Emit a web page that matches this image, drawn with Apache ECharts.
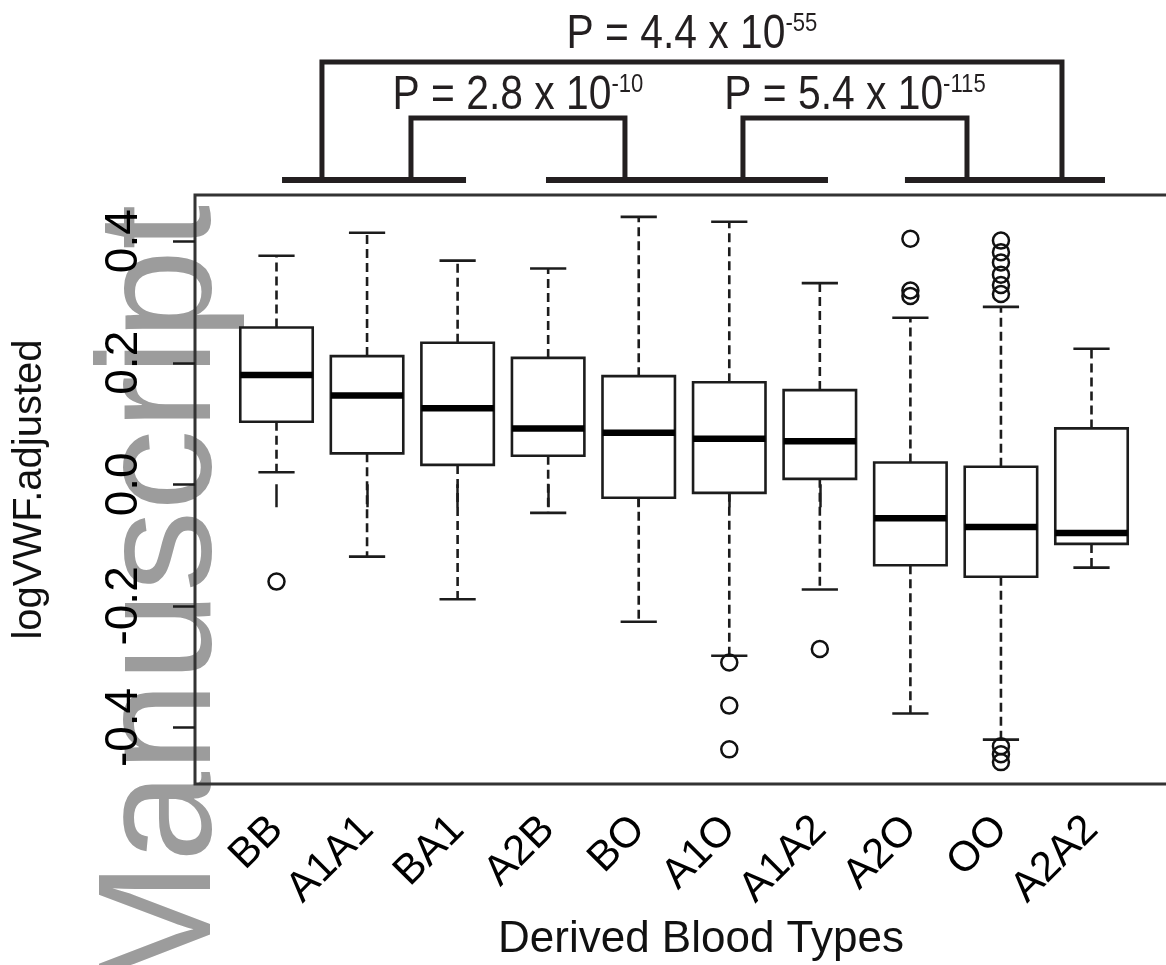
<!DOCTYPE html>
<html><head><meta charset="utf-8">
<script src="https://cdn.jsdelivr.net/npm/echarts@6/dist/echarts.min.js"></script>
<style>html,body{margin:0;padding:0;background:#fff}#c{width:1166px;height:965px}</style>
</head><body><div id="c"></div>
<script>
// ---------- data ----------
const categories  = ['BB','A1A1','BA1','A2B','BO','A1O','A1A2','A2O','OO','A2A2'];
const whiskerLow  = [0.020, -0.119, -0.189, -0.047, -0.226, -0.282, -0.173, -0.377, -0.420, -0.137];
const quartile1   = [0.103,  0.051,  0.032,  0.047, -0.022, -0.014,  0.009, -0.133, -0.152, -0.098];
const medians     = [0.180,  0.146,  0.125,  0.092,  0.085,  0.075,  0.071, -0.056, -0.070, -0.080];
const quartile3   = [0.258,  0.211,  0.233,  0.208,  0.178,  0.168,  0.155,  0.036,  0.029,  0.092];
const whiskerHigh = [0.376,  0.414,  0.368,  0.355,  0.440,  0.432,  0.331,  0.274,  0.292,  0.223];
// outliers: category (1-based position) and value
const outlierCategory = [1, 6, 6, 6, 7, 8, 8, 8, 9, 9, 9, 9, 9, 9, 9, 9, 9];
const outlierValue    = [-0.160, -0.293, -0.364, -0.436, -0.271, 0.404, 0.319, 0.310,
                         0.401, 0.382, 0.365, 0.345, 0.328, 0.313, -0.431, -0.444, -0.457];
const yTicks = [-0.4, -0.2, 0.0, 0.2, 0.4];
const pMantissa = ['4.4', '2.8', '5.4'];
const pExponent = ['-55', '-10', '-115'];

// ---------- styling / layout ----------
const FONT = '"Liberation Sans", Arial, Helvetica, sans-serif';
const INK = '#1c1c1c';
const positions = categories.map((_, i) => i + 1);

const chart = echarts.init(document.getElementById('c'), null, {renderer: 'canvas'});

const boxData = categories.map((c, i) => [i + 1, whiskerLow[i], quartile1[i], medians[i], quartile3[i], whiskerHigh[i]]);
const outlierData = outlierCategory.map((c, i) => [c, outlierValue[i]]);

function renderBox(params, api) {
  const x = api.value(0);
  const lo = api.coord([x, api.value(1)]);
  const q1 = api.coord([x, api.value(2)]);
  const md = api.coord([x, api.value(3)]);
  const q3 = api.coord([x, api.value(4)]);
  const hi = api.coord([x, api.value(5)]);
  const half = api.size([0.8, 0])[0] / 2;
  const cap = half / 2;
  const cx = md[0];
  const dashed = {stroke: INK, lineWidth: 2.6, lineDash: [9, 5]};
  const solid = {stroke: INK, lineWidth: 2.6};
  return {
    type: 'group',
    children: [
      {type: 'line', shape: {x1: cx, y1: q3[1], x2: cx, y2: hi[1]}, style: dashed},
      {type: 'line', shape: {x1: cx, y1: q1[1], x2: cx, y2: lo[1]}, style: dashed},
      {type: 'line', shape: {x1: cx - cap, y1: hi[1], x2: cx + cap, y2: hi[1]}, style: solid},
      {type: 'line', shape: {x1: cx - cap, y1: lo[1], x2: cx + cap, y2: lo[1]}, style: solid},
      {type: 'rect', shape: {x: cx - half, y: q3[1], width: 2 * half, height: q1[1] - q3[1]},
        style: {fill: '#fff', stroke: INK, lineWidth: 2.6}},
      {type: 'line', shape: {x1: cx - half, y1: md[1], x2: cx + half, y2: md[1]},
        style: {stroke: '#000', lineWidth: 6.5}}
    ]
  };
}

chart.setOption({
  animation: false,
  backgroundColor: '#fff',
  textStyle: {fontFamily: FONT},
  grid: {left: 195, top: 195, width: 978, height: 589, show: true, containLabel: false,
         outerBoundsMode: 'none',
         borderColor: '#333', borderWidth: 3, backgroundColor: 'transparent'},
  xAxis: {
    type: 'value', min: 0.1, max: 10.9,
    axisLine: {show: false}, splitLine: {show: false},
    axisTick: {customValues: positions, length: 23, lineStyle: {color: INK, width: 2.5}},
    axisLabel: {customValues: positions, rotate: 45, margin: 39, fontSize: 42, color: '#000',
                fontFamily: FONT, formatter: v => categories[Math.round(v) - 1]},
    name: 'Derived Blood Types', nameLocation: 'middle', nameGap: 131,
    nameTextStyle: {fontSize: 44, color: '#111', fontFamily: FONT, padding: [0, 0, 0, 34]}
  },
  yAxis: {
    type: 'value', min: -0.493, max: 0.476,
    axisLine: {show: false}, splitLine: {show: false},
    axisTick: {customValues: yTicks, length: 22, lineStyle: {color: INK, width: 2.5}},
    axisLabel: {customValues: yTicks, rotate: 90, margin: 48, fontSize: 46, color: '#000',
                fontFamily: FONT, formatter: v => v.toFixed(1)},
    name: 'logVWF.adjusted', nameLocation: 'middle', nameRotate: 90, nameGap: 145,
    nameTextStyle: {fontSize: 40, color: '#111', fontFamily: FONT}
  },
  series: [
    {type: 'custom', name: 'box', data: boxData, renderItem: renderBox,
     encode: {x: 0, y: [1, 2, 3, 4, 5]}, clip: false, z: 3},
    {type: 'scatter', name: 'outliers', data: outlierData, symbol: 'circle', symbolSize: 16,
     itemStyle: {color: 'rgba(0,0,0,0)', borderColor: '#111', borderWidth: 2.5, opacity: 1}, z: 4}
  ]
});

// ---------- significance brackets (positions in x-axis units) ----------
const bracketLayout = {
  bars: [[1.061, 3.093], [3.976, 7.090], [7.940, 10.149]],
  barY: 180,
  brackets: [
    {from: 1.502, to: 9.674, top: 62, textY: 35},
    {from: 2.485, to: 4.848, top: 118, textY: 96},
    {from: 6.151, to: 8.625, top: 118, textY: 96}
  ]
};
const px = u => chart.convertToPixel({gridIndex: 0}, [u, 0])[0];

const elements = [];
elements.push({
  type: 'text', x: 165, y: 997, rotation: Math.PI / 2, z: -10, silent: true,
  style: {text: 'Manuscript', fontSize: 162, fontFamily: FONT, fill: '#9c9c9c',
          align: 'left', verticalAlign: 'middle'}
});
bracketLayout.bars.forEach(b => {
  elements.push({type: 'line', z: 10, shape: {x1: px(b[0]), y1: bracketLayout.barY, x2: px(b[1]), y2: bracketLayout.barY},
                 style: {stroke: '#231f20', lineWidth: 6}});
});
bracketLayout.brackets.forEach((b, i) => {
  const x1 = px(b.from), x2 = px(b.to);
  elements.push({type: 'polyline', z: 10,
    shape: {points: [[x1, bracketLayout.barY], [x1, b.top], [x2, b.top], [x2, bracketLayout.barY]]},
    style: {stroke: '#231f20', lineWidth: 5, fill: null, lineJoin: 'miter'}});
  elements.push({type: 'text', z: 10, x: (x1 + x2) / 2, y: b.textY, scaleX: 0.85,
    style: {text: '{m|P = ' + pMantissa[i] + ' x 10}{s|' + pExponent[i] + '}',
            x: 0, y: 0, align: 'center', verticalAlign: 'middle',
            rich: {m: {fontSize: 48, lineHeight: 48, fontFamily: FONT, fill: '#231f20'},
                   s: {fontSize: 26, lineHeight: 26, fontFamily: FONT, fill: '#231f20', verticalAlign: 'top'}}}});
});
chart.setOption({graphic: {elements: elements}});
</script>
</body></html>
